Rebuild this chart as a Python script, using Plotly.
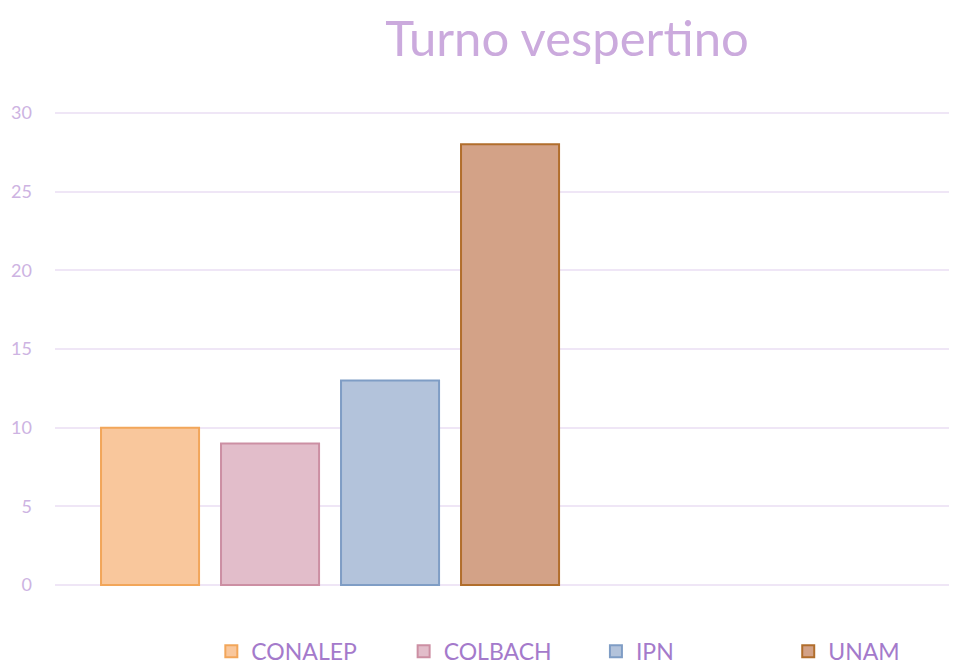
import plotly.graph_objects as go

categories = ["CONALEP", "COLBACH", "IPN", "UNAM"]
values = [10, 9, 13, 28]
fill_colors = ["#F9C79C", "#E2BDCA", "#B3C3DB", "#D3A287"]
line_colors = ["#F2A65A", "#CC8FA3", "#7F9DC5", "#B16E2C"]
y_ticks = [0, 5, 10, 15, 20, 25, 30]

fig = go.Figure()
for cat, val, fc, lc in zip(categories, values, fill_colors, line_colors):
    fig.add_trace(go.Bar(
        x=[cat], y=[val], name=cat, width=0.817,
        marker=dict(color=fc, line=dict(color=lc, width=2)),
    ))

fig.update_layout(
    width=949, height=656,
    paper_bgcolor="white", plot_bgcolor="white",
    barmode="overlay",
    margin=dict(l=47, r=2, t=103, b=77, autoexpand=False),
    title=dict(text="Turno vespertino", x=0.589, xref="container", xanchor="center",
               y=0.9527, yref="container", yanchor="middle",
               font=dict(family="Lato", size=49, color="#CBAADD")),
    xaxis=dict(range=[-0.792, 6.708], showticklabels=False, showgrid=False,
               zeroline=False, showline=False, ticks=""),
    yaxis=dict(range=[-0.12, 30.12], tickvals=y_ticks, showgrid=True, gridcolor="#EFE6F6",
               gridwidth=1.5, zeroline=False, showline=False,
               tickfont=dict(family="Lato", size=18, color="#CDB3E2"),
               ticklabelstandoff=22),
    legend=dict(orientation="h", x=0.1737, xanchor="left", y=-0.135, yanchor="middle",
                entrywidth=147.3, font=dict(family="Lato", size=23, color="#A47ACB")),
    showlegend=True,
)

fig.write_html("out.html")
